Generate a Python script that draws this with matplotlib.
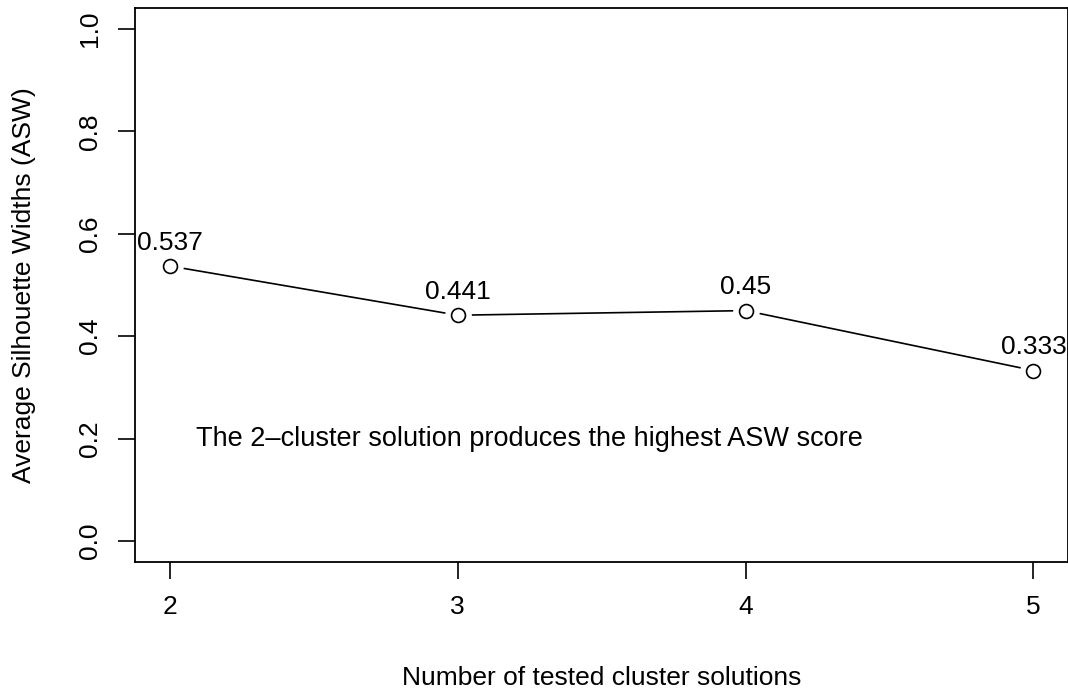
import matplotlib
matplotlib.use("Agg")
import matplotlib.pyplot as plt

# ASW per tested cluster solution
clusters = [2, 3, 4, 5]
asw = [0.537, 0.441, 0.45, 0.333]
asw_labels = ["0.537", "0.441", "0.45", "0.333"]
y_ticks = [0.0, 0.2, 0.4, 0.6, 0.8, 1.0]

plt.rcParams["font.family"] = ["Liberation Sans", "DejaVu Sans"]
FS = 19

fig = plt.figure(figsize=(10.68, 6.91), dpi=100)
ax = fig.add_axes([0.1268, 0.1874, 0.8732, 0.8003])

# type="b" look: line, white gap around points, then open circles
ax.plot(clusters, asw, color="black", lw=1.2, zorder=2)
ax.scatter(clusters, asw, s=330, color="white", zorder=3)
ax.scatter(clusters, asw, s=100, facecolor="white", edgecolor="black", linewidth=1.2, zorder=4)

for x, y, lab in zip(clusters, asw, asw_labels):
    ax.annotate(lab, (x, y), xytext=(0, 8), textcoords="offset points",
                ha="center", va="bottom", fontsize=FS)

ax.text(3.25, 0.2, "The 2\u2013cluster solution produces the highest ASW score",
        ha="center", va="center", fontsize=19.5)

ax.set_xlim(1.88, 5.12)
ax.set_ylim(-0.04, 1.04)
ax.set_xticks(clusters)
ax.set_xticklabels([str(c) for c in clusters])
ax.set_yticks(y_ticks)
ax.set_yticklabels([f"{t:.1f}" for t in y_ticks], rotation=90, va="center")
ax.tick_params(axis="both", length=12, width=1.2, labelsize=FS, pad=12)
for sp in ax.spines.values():
    sp.set_linewidth(1.3)

ax.set_xlabel("Number of tested cluster solutions", fontsize=FS, labelpad=34)
ax.set_ylabel("Average Silhouette Widths (ASW)", fontsize=FS, labelpad=30)

fig.savefig("out.png", dpi=100)
